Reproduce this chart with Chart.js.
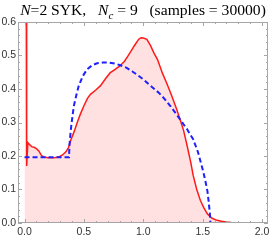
<!DOCTYPE html>
<html>
<head>
<meta charset="utf-8">
<script src="https://cdn.jsdelivr.net/npm/chart.js@4.4.0/dist/chart.umd.min.js"></script>
<style>
  html, body { margin: 0; padding: 0; background: #fff; }
  canvas { display: block; }
</style>
</head>
<body>
<canvas id="myChart" width="274" height="240"></canvas>
<script>
const sampleX = [0.0, 0.015, 0.018, 0.028, 0.04, 0.06, 0.08, 0.1, 0.12, 0.14, 0.16, 0.2, 0.25, 0.29, 0.32, 0.35, 0.37, 0.39, 0.42, 0.443, 0.47, 0.5, 0.53, 0.555, 0.6, 0.64, 0.68, 0.72, 0.76, 0.8, 0.84, 0.87, 0.9, 0.93, 0.96, 0.98, 1.0, 1.03, 1.06, 1.09, 1.12, 1.16, 1.2, 1.24, 1.28, 1.31, 1.34, 1.37, 1.4, 1.42, 1.45, 1.48, 1.51, 1.54, 1.58, 1.62, 1.66, 1.7, 1.75, 1.8, 2.0];
const sampleY = [0.75, 0.75, 0.17, 0.24, 0.235, 0.228, 0.226, 0.222, 0.215, 0.203, 0.197, 0.195, 0.195, 0.197, 0.203, 0.213, 0.225, 0.248, 0.275, 0.299, 0.325, 0.35, 0.372, 0.384, 0.397, 0.41, 0.43, 0.448, 0.458, 0.468, 0.482, 0.498, 0.515, 0.532, 0.548, 0.553, 0.552, 0.548, 0.53, 0.507, 0.488, 0.448, 0.415, 0.379, 0.34, 0.309, 0.275, 0.229, 0.18, 0.142, 0.1, 0.068, 0.045, 0.027, 0.014, 0.008, 0.005, 0.003, 0.001, 0, 0];

const theoryX = [0, 0.375, 0.375, 0.378, 0.385, 0.395, 0.415, 0.435, 0.456, 0.49, 0.527, 0.57, 0.611, 0.66, 0.706, 0.76, 0.807, 0.86, 0.905, 0.95, 1.0, 1.06, 1.13, 1.18, 1.23, 1.28, 1.31, 1.37, 1.42, 1.46, 1.5, 1.52, 1.54, 1.55, 1.56, 1.565, 2.0];
const theoryY = [0.196, 0.196, 0.2, 0.23, 0.26, 0.295, 0.349, 0.38, 0.409, 0.438, 0.459, 0.471, 0.477, 0.479, 0.479, 0.476, 0.471, 0.463, 0.453, 0.442, 0.429, 0.41, 0.389, 0.37, 0.348, 0.324, 0.309, 0.279, 0.25, 0.212, 0.16, 0.13, 0.095, 0.065, 0.03, 0, 0];

const xTicks = [0, 0.5, 1.0, 1.5, 2.0];
const yTicks = [0, 0.1, 0.2, 0.3, 0.4, 0.5, 0.6];

const toPoints = (xs, ys) => xs.map((x, i) => ({ x: x, y: ys[i] }));

const frameColor = '#a6a6a6';
const labelFont = { family: 'Liberation Sans', size: 10.5 };

// Mathematica style frame with inward ticks on all four sides
const framePlugin = {
    id: 'frame',
    afterDraw(chart) {
        const { ctx, chartArea: a, scales } = chart;
        ctx.save();
        ctx.strokeStyle = frameColor;
        ctx.lineWidth = 1;
        ctx.strokeRect(a.left + 0.5, a.top + 0.5, a.right - a.left - 1, a.bottom - a.top - 1);
        ctx.beginPath();
        for (let i = 0; i <= 20; i++) {
            const v = i * 0.1;
            const len = i % 5 === 0 ? 4 : 2;
            const px = Math.round(scales.x.getPixelForValue(v)) + 0.5;
            ctx.moveTo(px, a.bottom); ctx.lineTo(px, a.bottom - len);
            ctx.moveTo(px, a.top); ctx.lineTo(px, a.top + len);
        }
        for (let i = 0; i <= 30; i++) {
            const v = i * 0.02;
            const len = i % 5 === 0 ? 4 : 2;
            const py = Math.round(scales.y.getPixelForValue(v)) + 0.5;
            ctx.moveTo(a.left, py); ctx.lineTo(a.left + len, py);
            ctx.moveTo(a.right, py); ctx.lineTo(a.right - len, py);
        }
        ctx.stroke();
        ctx.restore();
    }
};

// title with italic N and subscript c
const titlePlugin = {
    id: 'mathTitle',
    afterDraw(chart) {
        const ctx = chart.ctx;
        const a = chart.chartArea;
        let size = 14;
        const parts = (s) => [
            { t: 'N', f: 'italic ' + s + 'px "Liberation Serif"', dy: 0 },
            { t: '=2 SYK,', f: s + 'px "Liberation Serif"', dy: 0 },
            { t: '   ', f: s + 'px "Liberation Serif"', dy: 0 },
            { t: 'N', f: 'italic ' + s + 'px "Liberation Serif"', dy: 0 },
            { t: 'c', f: 'italic ' + (s * 0.7) + 'px "Liberation Serif"', dy: s * 0.25 },
            { t: ' = 9   (samples = 30000)', f: s + 'px "Liberation Serif"', dy: 0 }
        ];
        const measure = (ps) => ps.reduce((w, p) => { ctx.font = p.f; return w + ctx.measureText(p.t).width; }, 0);
        let w = measure(parts(size));
        size = size * 246 / w;
        const ps = parts(size);
        w = measure(ps);
        let x = (a.left + a.right) / 2 - w / 2;
        ctx.save();
        ctx.fillStyle = '#000';
        ctx.textBaseline = 'alphabetic';
        ps.forEach(p => {
            ctx.font = p.f;
            ctx.fillText(p.t, x, 15 + p.dy);
            x += ctx.measureText(p.t).width;
        });
        ctx.restore();
    }
};

new Chart(document.getElementById('myChart').getContext('2d'), {
    type: 'line',
    data: {
        datasets: [
            {
                label: 'theory',
                data: toPoints(theoryX, theoryY),
                borderColor: '#1f1fff',
                borderWidth: 2,
                borderDash: [5, 3],
                pointRadius: 0,
                fill: false,
                tension: 0,
                clip: 0
            },
            {
                label: 'samples',
                data: toPoints(sampleX, sampleY),
                borderColor: '#ff1a1a',
                backgroundColor: 'rgba(255, 215, 215, 0.75)',
                borderWidth: 1.5,
                pointRadius: 0,
                fill: 'origin',
                tension: 0,
                clip: 0
            }
        ]
    },
    options: {
        responsive: false,
        animation: false,
        layout: { padding: { top: 22, right: 6, left: 0, bottom: 0 } },
        plugins: {
            legend: { display: false },
            tooltip: { enabled: false },
            title: { display: false }
        },
        scales: {
            x: {
                type: 'linear',
                min: -0.055,
                max: 2.05,
                afterBuildTicks: s => { s.ticks = xTicks.map(v => ({ value: v })); },
                afterFit: s => { s.height = 17; s.paddingLeft = 0; s.paddingRight = 0; },
                grid: { display: false, drawTicks: false },
                border: { display: false },
                ticks: {
                    callback: v => v.toFixed(1),
                    font: labelFont,
                    color: '#333',
                    padding: 3,
                    maxRotation: 0,
                    autoSkip: false
                }
            },
            y: {
                min: 0,
                max: 0.6,
                afterBuildTicks: s => { s.ticks = yTicks.map(v => ({ value: v })); },
                afterFit: s => { s.width = 18; s.paddingTop = 0; s.paddingBottom = 0; },
                grid: { display: false, drawTicks: false },
                border: { display: false },
                ticks: {
                    callback: v => v.toFixed(1),
                    font: labelFont,
                    color: '#333',
                    padding: 2,
                    autoSkip: false
                }
            }
        }
    },
    plugins: [framePlugin, titlePlugin]
});
</script>
</body>
</html>
